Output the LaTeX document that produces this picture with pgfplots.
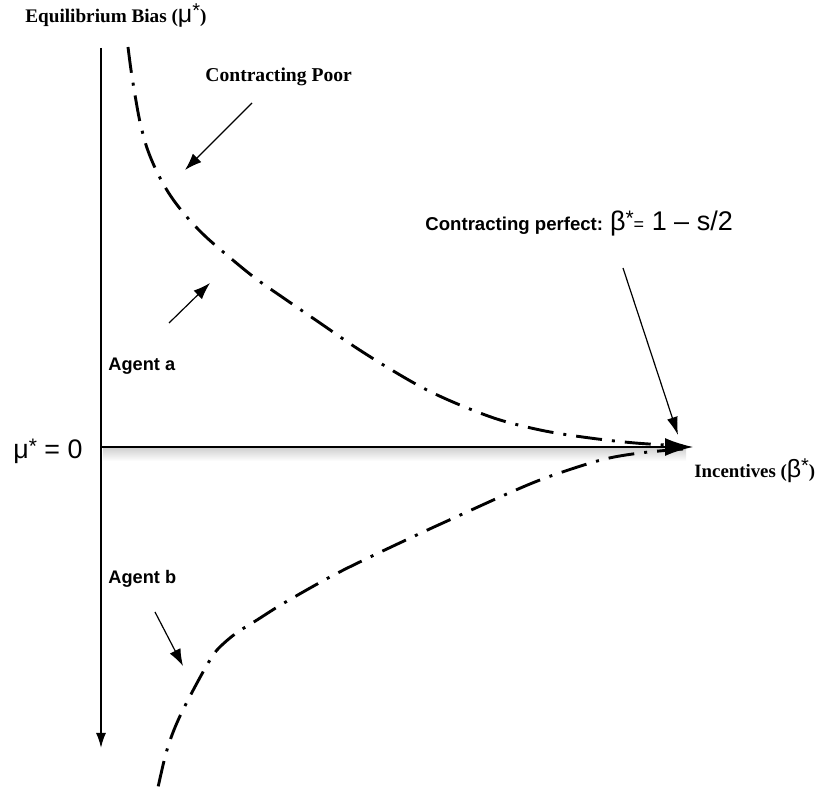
\documentclass[border=0pt]{standalone}
\usepackage{fontspec}
\setmainfont{Liberation Serif}
\setsansfont{Liberation Sans}
\usepackage{pgfplots}
\pgfplotsset{compat=1.18}
\usetikzlibrary{arrows.meta}
\newcommand{\bigast}[1]{\raisebox{0.22em}{\fontsize{#1}{#1}\selectfont *}}

\begin{document}
\begin{tikzpicture}
\begin{axis}[
  width=415.5pt, height=398pt, scale only axis,
  xmin=0, xmax=831, ymin=0, ymax=796, y dir=reverse,
  hide axis, clip=false,
]
\path (axis cs:0,0) rectangle (axis cs:831,796);
% shadow under horizontal axis
\fill[top color=black!18, bottom color=white, draw=none] (axis cs:103,448) rectangle (axis cs:686,461);
% axes
\draw[line width=0.8pt, -{Latex[length=7.5pt,width=5pt]}] (axis cs:101,48) -- (axis cs:101,748);
\draw[line width=0.8pt, -{Latex[length=14pt,width=9pt]}] (axis cs:101,447) -- (axis cs:693,447);

% Agent a curve
\addplot[line width=1.45pt, dash pattern=on 13pt off 5pt on 1.5pt off 5pt, smooth, tension=0.55] coordinates {
(128,47) (131,70) (135,95) (140,122) (147,148) (157,172) (170,195) (186,216) (205,236) (228,256) (255,278) (285,299) (320,323) (355,347) (390,369) (425,389) (460,405) (500,420) (545,431) (590,438) (635,443) (683,446)
};
% Agent b curve
\addplot[line width=1.45pt, dash pattern=on 13pt off 5pt on 1.5pt off 5pt, smooth, tension=0.55] coordinates {
(683,449) (640,453) (601,460) (548,477) (509,493) (456,517) (421,533) (368,558) (330,577) (284,603) (257,620) (235,634) (217,650) (207,665) (197,683) (188,700) (180,716) (172,735) (165,757) (157,792)
};

% annotation arrows
\draw[line width=0.6pt, -{Latex[length=8.5pt,width=6pt]}] (axis cs:252,103) -- (axis cs:185,170);
\draw[line width=0.6pt, -{Latex[length=8.5pt,width=6pt]}] (axis cs:169,323) -- (axis cs:210,283);
\draw[line width=0.6pt, -{Latex[length=9pt,width=5.5pt]}] (axis cs:623,268) -- (axis cs:678,435);
\draw[line width=0.6pt, -{Latex[length=8.5pt,width=6pt]}] (axis cs:155,612) -- (axis cs:183,666);

% texts
\node[anchor=base west, inner sep=0pt, font=\bfseries\fontsize{9.6}{11}\selectfont] at (axis cs:25,23)
  {Equilibrium Bias ({\sffamily\mdseries\fontsize{12.5}{14}\selectfont μ\bigast{10}})};
\node[anchor=base west, inner sep=0pt, font=\bfseries\fontsize{9.8}{11}\selectfont] at (axis cs:205,82)
  {Contracting Poor};
\node[anchor=base west, inner sep=0pt, font=\sffamily\bfseries\fontsize{9.3}{11}\selectfont] at (axis cs:425,231)
  {Contracting perfect: {\mdseries\fontsize{13.5}{15}\selectfont β\bigast{10.5}{\fontsize{9}{10}\selectfont=} 1 – s/2}};
\node[anchor=base west, inner sep=0pt, font=\sffamily\bfseries\fontsize{9.1}{11}\selectfont] at (axis cs:108,371)
  {Agent a};
\node[anchor=base west, inner sep=0pt, font=\sffamily\bfseries\fontsize{9.1}{11}\selectfont] at (axis cs:108,584)
  {Agent b};
\node[anchor=base west, inner sep=0pt, font=\sffamily\fontsize{13.4}{15}\selectfont] at (axis cs:13,459)
  {μ\bigast{10.5} = 0};
\node[anchor=base west, inner sep=0pt, font=\bfseries\fontsize{9.4}{11}\selectfont] at (axis cs:694,478)
  {Incentives ({\sffamily\mdseries\fontsize{12.5}{14}\selectfont β\bigast{10}})};
\end{axis}
\end{tikzpicture}
\end{document}
